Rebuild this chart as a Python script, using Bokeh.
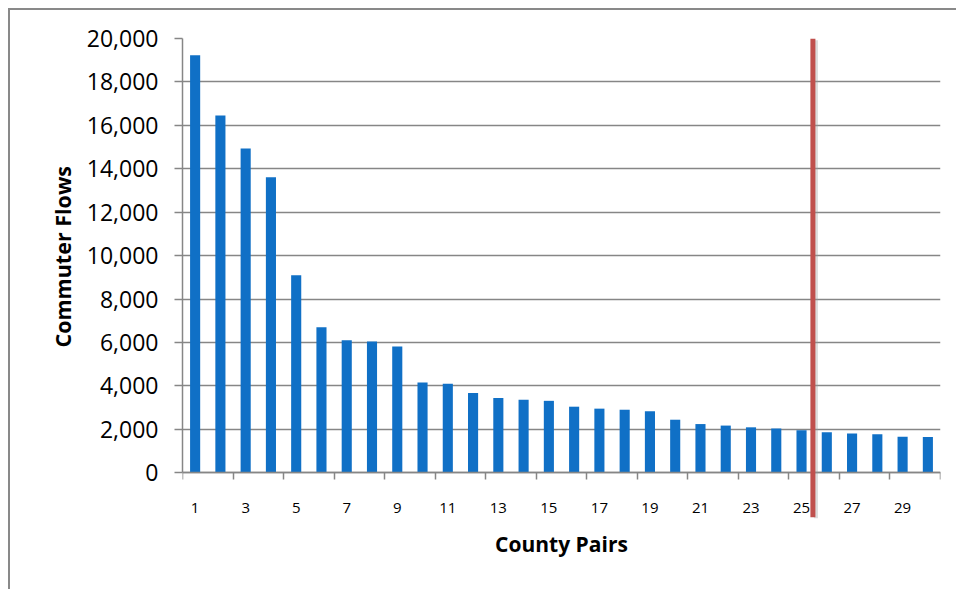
from bokeh.plotting import figure
from bokeh.models import (Range1d, FixedTicker, NumeralTickFormatter, Arrow,
                          ColumnDataSource, Title)
from bokeh.embed import file_html
from bokeh.resources import INLINE

# ---- data ----
pairs = list(range(1, 31))
flows = [19230, 16450, 14930, 13610, 9090, 6700, 6100, 6040, 5810, 4150,
         4100, 3670, 3440, 3360, 3310, 3040, 2950, 2900, 2830, 2440,
         2240, 2170, 2090, 2040, 1950, 1860, 1800, 1770, 1660, 1640]
y_ticks = [0, 2000, 4000, 6000, 8000, 10000, 12000, 14000, 16000, 18000, 20000]
x_label_ticks = [1, 3, 5, 7, 9, 11, 13, 15, 17, 19, 21, 23, 25, 27, 29]
x_mark_ticks = [0.5, 2.5, 4.5, 6.5, 8.5, 10.5, 12.5, 14.5, 16.5, 18.5, 20.5,
                22.5, 24.5, 26.5, 28.5, 30.5]
cutoff_position = 25.45   # red marker between pair 25 and 26
cutoff_top = 20000
cutoff_bottom = -2050
x_title = "County Pairs"
y_title = "Commuter Flows"

FONT = "Open Sans"
GRID = "#868686"

src = ColumnDataSource(dict(x=pairs, y=flows))

p = figure(width=948, height=581, output_backend="svg", toolbar_location=None,
           x_range=Range1d(0.5, 30.5), y_range=Range1d(-2110, 20000),
           min_border_left=172, min_border_right=18, min_border_top=28,
           min_border_bottom=73, margin=(8, 0, 0, 8))
p.styles = {"border-left": "2px solid #898989", "border-top": "2px solid #898989"}
p.outline_line_color = None
p.background_fill_color = "white"
p.border_fill_color = "white"

p.vbar(x="x", top="y", width=0.4, source=src, fill_color="#1070C6",
       line_color=None)

# y axis
p.yaxis.ticker = FixedTicker(ticks=y_ticks)
p.yaxis.bounds = (0, 20000)
p.yaxis.formatter = NumeralTickFormatter(format="0,0")
p.yaxis.major_label_text_font = FONT
p.yaxis.major_label_text_font_size = "23px"
p.yaxis.major_label_text_color = "black"
p.yaxis.major_tick_out = 8
p.yaxis.major_tick_in = 0
p.yaxis.minor_tick_line_color = None
p.yaxis.major_label_standoff = 16
p.yaxis.axis_line_color = GRID
p.yaxis.axis_line_width = 1.5
p.yaxis.major_tick_line_color = GRID
p.yaxis.major_tick_line_width = 1.5

# x axis (drawn at y = 0 so the marker line can extend below it)
p.xaxis.fixed_location = 0
p.xaxis.ticker = FixedTicker(ticks=x_label_ticks, minor_ticks=x_mark_ticks)
p.xaxis.major_tick_out = 0
p.xaxis.major_tick_in = 0
p.xaxis.minor_tick_out = 7
p.xaxis.minor_tick_in = 0
p.xaxis.minor_tick_line_color = GRID
p.xaxis.minor_tick_line_width = 1.5
p.xaxis.axis_line_color = GRID
p.xaxis.axis_line_width = 1.5
p.xaxis.major_label_text_font = FONT
p.xaxis.major_label_text_font_size = "15px"
p.xaxis.major_label_text_color = "black"
p.xaxis.major_label_standoff = 23

# axis titles
p.add_layout(Title(text=x_title, align="center", text_font=FONT,
                   text_font_style="bold", text_font_size="21px",
                   text_color="black", standoff=19), "below")
p.add_layout(Title(text=y_title, align="left", offset=171, text_font=FONT,
                   text_font_style="bold", text_font_size="21.5px",
                   text_color="black", standoff=14), "left")

# grid
p.xgrid.grid_line_color = None
p.ygrid.ticker = FixedTicker(ticks=y_ticks)
p.ygrid.grid_line_color = GRID
p.ygrid.grid_line_width = 1.5

# red cutoff line (with faint shadow)
p.add_layout(Arrow(end=None, x_start=cutoff_position + 0.12, y_start=cutoff_top - 80,
                   x_end=cutoff_position + 0.12, y_end=cutoff_bottom - 60,
                   line_color="#9a9a9a", line_alpha=0.35, line_width=4))
p.add_layout(Arrow(end=None, x_start=cutoff_position, y_start=cutoff_top,
                   x_end=cutoff_position, y_end=cutoff_bottom,
                   line_color="#C0504D", line_width=5))

open("out.html", "w").write(file_html(p, INLINE))
